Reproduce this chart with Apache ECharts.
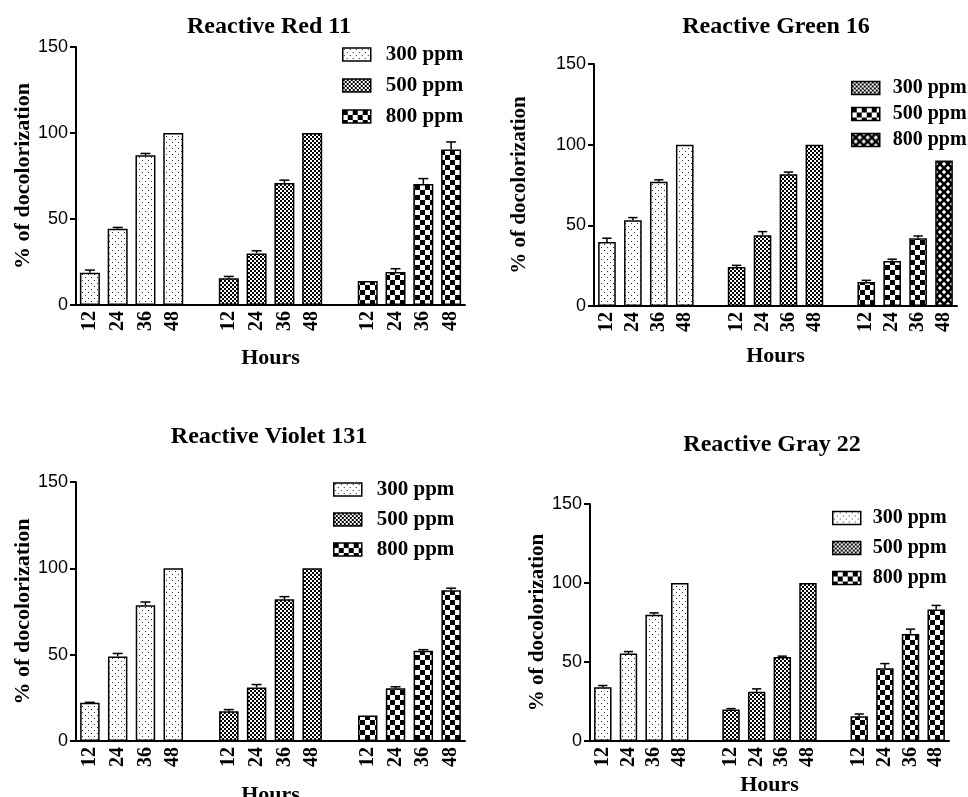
<!DOCTYPE html>
<html><head><meta charset="utf-8">
<script src="https://cdn.jsdelivr.net/npm/echarts@6/dist/echarts.min.js"></script>
<style>html,body{margin:0;padding:0;background:#fff}#c{width:968px;height:797px}</style>
</head><body><div id="c"></div>
<script>
// ---- data ----
const titles = ['Reactive Red 11', 'Reactive Green 16', 'Reactive Violet 131', 'Reactive Gray 22'];
const hours = ['12', '24', '36', '48'];
const concentrations = ['300 ppm', '500 ppm', '800 ppm'];
const yAxisName = '% of docolorization';
const xAxisName = 'Hours';

const red300 = [18.8, 44.3, 87.1, 100];  const red300Err = [1.5, 0.8, 1.0, 0];
const red500 = [15.5, 30.0, 71.0, 100];  const red500Err = [1.1, 1.5, 1.6, 0];
const red800 = [13.9, 19.2, 70.4, 90.4]; const red800Err = [0, 1.9, 3.1, 4.4];

const green300 = [39.7, 53.2, 77.0, 100]; const green300Err = [2.3, 1.6, 1.2, 0];
const green500 = [24.2, 43.9, 81.7, 100]; const green500Err = [1.0, 2.2, 1.3, 0];
const green800 = [14.9, 27.9, 42.0, 90.2]; const green800Err = [1.0, 1.1, 1.4, 0];

const violet300 = [22.1, 49.0, 78.6, 100]; const violet300Err = [0.3, 1.7, 1.9, 0];
const violet500 = [17.2, 31.0, 82.1, 100]; const violet500Err = [1.0, 1.7, 1.5, 0];
const violet800 = [14.7, 30.6, 52.3, 87.3]; const violet800Err = [0, 0.8, 0.6, 1.2];

const gray300 = [34.0, 55.4, 79.9, 100]; const gray300Err = [1.1, 1.2, 1.2, 0];
const gray500 = [19.9, 31.1, 53.2, 100]; const gray500Err = [0.6, 1.9, 0.5, 0];
const gray800 = [15.6, 46.1, 67.8, 83.2]; const gray800Err = [1.5, 2.9, 3.0, 2.6];

const panelValues = [
  [red300, red500, red800],
  [green300, green500, green800],
  [violet300, violet500, violet800],
  [gray300, gray500, gray800]
];
const panelErrors = [
  [red300Err, red500Err, red800Err],
  [green300Err, green500Err, green800Err],
  [violet300Err, violet500Err, violet800Err],
  [gray300Err, gray500Err, gray800Err]
];

// ---- patterns ----
function makeCanvas(w, h, draw) {
  const c = document.createElement('canvas'); c.width = w; c.height = h;
  const g = c.getContext('2d'); g.fillStyle = '#fff'; g.fillRect(0, 0, w, h); draw(g); return c;
}
const patDots = { image: makeCanvas(6, 6, g => { g.fillStyle = '#333'; g.fillRect(1, 1, 1, 1); g.fillRect(4, 4, 1, 1); }), repeat: 'repeat' };
const patFine = { image: makeCanvas(4, 4, g => { g.fillStyle = '#000'; g.fillRect(0, 0, 2, 2); g.fillRect(2, 2, 2, 2); }), repeat: 'repeat' };
const patCheck = { image: makeCanvas(10, 10, g => { g.fillStyle = '#000'; g.fillRect(0, 0, 5, 5); g.fillRect(5, 5, 5, 5); }), repeat: 'repeat' };
const patX = { image: makeCanvas(8, 8, g => {
  g.strokeStyle = '#000'; g.lineWidth = 2.6;
  [-8, 0, 8].forEach(k => { g.beginPath(); g.moveTo(k, 0); g.lineTo(k + 8, 8); g.stroke();
    g.beginPath(); g.moveTo(k + 8, 0); g.lineTo(k, 8); g.stroke(); });
}), repeat: 'repeat' };
const seriesPatterns = [patDots, patFine, patCheck];

// ---- layout ----
const panels = [
  { grid: { left: 76, top: 47, width: 389, height: 258 }, titleX: 269, titleY: 15, yGap: 40, yFont: 22, xGap: 42,
    legend: { left: 342, top: 44, gap: 10, font: 21, pad: 10 }, barW: '72%' },
  { grid: { left: 594, top: 64, width: 363, height: 242 }, titleX: 776, titleY: 15, yGap: 64, yFont: 21, xGap: 39,
    legend: { left: 851, top: 78, gap: 6, font: 20, pad: 8 }, barW: '68%' },
  { grid: { left: 76, top: 482, width: 389, height: 259 }, titleX: 269, titleY: 425, yGap: 40, yFont: 22, xGap: 43,
    legend: { left: 333, top: 479, gap: 9, font: 21, pad: 10 }, barW: '70%' },
  { grid: { left: 590, top: 504, width: 359, height: 237 }, titleX: 772, titleY: 433, yGap: 36, yFont: 21, xGap: 33,
    legend: { left: 832, top: 508, gap: 10, font: 20, pad: 7 }, barW: '68%' }
];

const categories = [];
concentrations.forEach((c, j) => { hours.forEach(h => categories.push(h)); if (j < concentrations.length - 1) categories.push(' '); });

const serif = 'Liberation Serif';
const sans = 'Liberation Sans';

function renderErr(params, api) {
  const x = api.value(0), v = api.value(1), e = api.value(2);
  if (!e) return;
  const p0 = api.coord([x, v]); const p1 = api.coord([x, v + e]);
  const hw = api.size([1, 0])[0] * 0.18;
  return { type: 'group', children: [
    { type: 'line', shape: { x1: p0[0], y1: p0[1], x2: p1[0], y2: p1[1] }, style: { stroke: '#000', lineWidth: 1.5 } },
    { type: 'line', shape: { x1: p1[0] - hw, y1: p1[1], x2: p1[0] + hw, y2: p1[1] }, style: { stroke: '#000', lineWidth: 1.5 } }
  ] };
}

const option = {
  animation: false,
  backgroundColor: '#fff',
  title: panels.map((p, i) => ({
    text: titles[i], left: p.titleX, top: p.titleY, textAlign: 'center', padding: 0,
    textStyle: { fontFamily: serif, fontWeight: 'bold', fontSize: 24, color: '#000' }
  })),
  grid: panels.map(p => Object.assign({ outerBoundsMode: 'none', containLabel: false }, p.grid)),
  xAxis: panels.map((p, i) => ({
    type: 'category', gridIndex: i, data: categories,
    name: xAxisName, nameLocation: 'middle', nameGap: p.xGap,
    nameTextStyle: { fontFamily: serif, fontWeight: 'bold', fontSize: 22, color: '#000' },
    axisLine: { lineStyle: { color: '#000', width: 2 } },
    axisTick: { alignWithLabel: true, interval: 0, length: 6, lineStyle: { color: '#000', width: 2 } },
    axisLabel: { interval: 0, rotate: 90, margin: 6, fontFamily: serif, fontWeight: 'bold', fontSize: 20, color: '#000' },
    splitLine: { show: false }
  })),
  yAxis: panels.map((p, i) => ({
    type: 'value', gridIndex: i, min: 0, max: 150, interval: 50,
    name: yAxisName, nameLocation: 'middle', nameRotate: 90, nameGap: p.yGap,
    nameTextStyle: { fontFamily: serif, fontWeight: 'bold', fontSize: p.yFont, color: '#000' },
    axisLine: { show: true, lineStyle: { color: '#000', width: 2 } },
    axisTick: { show: true, length: 6, lineStyle: { color: '#000', width: 2 } },
    axisLabel: { fontFamily: sans, fontSize: 18, color: '#000', margin: 8 },
    splitLine: { show: false }
  })),
  legend: panels.map((p, i) => ({
    orient: 'vertical', left: p.legend.left, top: p.legend.top, itemWidth: 28, itemHeight: 13,
    itemGap: p.legend.gap, icon: 'rect', selectedMode: false, padding: 0,
    data: concentrations.map((c, j) => {
      const d = { name: c + '|' + i };
      if (i === 1) d.itemStyle = { color: [patFine, patCheck, patX][j], borderColor: '#000', borderWidth: 1.5 };
      return d;
    }),
    formatter: n => n.split('|')[0],
    itemStyle: { borderColor: '#000', borderWidth: 1.5 },
    textStyle: { fontFamily: serif, fontWeight: 'bold', fontSize: p.legend.font, color: '#000', padding: [0, 0, 0, p.legend.pad] }
  })),
  series: []
};

panels.forEach((p, i) => {
  const errData = [];
  concentrations.forEach((c, j) => {
    const data = categories.map(() => '-');
    panelValues[i][j].forEach((v, k) => {
      const idx = j * (hours.length + 1) + k;
      data[idx] = v;
      errData.push([idx, v, panelErrors[i][j][k]]);
    });
    if (i === 1 && j === 2) {
      const idx = j * (hours.length + 1) + 3;
      data[idx] = { value: panelValues[i][j][3], itemStyle: { color: patX } };
    }
    option.series.push({
      type: 'bar', name: c + '|' + i, xAxisIndex: i, yAxisIndex: i, data: data,
      barWidth: p.barW, barGap: '-100%',
      itemStyle: { color: seriesPatterns[j], borderColor: '#000', borderWidth: 1.5 }
    });
  });
  option.series.push({
    type: 'custom', xAxisIndex: i, yAxisIndex: i, data: errData, renderItem: renderErr,
    encode: { x: 0, y: 1 }, z: 10, silent: true
  });
});

const chart = echarts.init(document.getElementById('c'), null, { renderer: 'canvas' });
chart.setOption(option);
</script>
</body></html>
